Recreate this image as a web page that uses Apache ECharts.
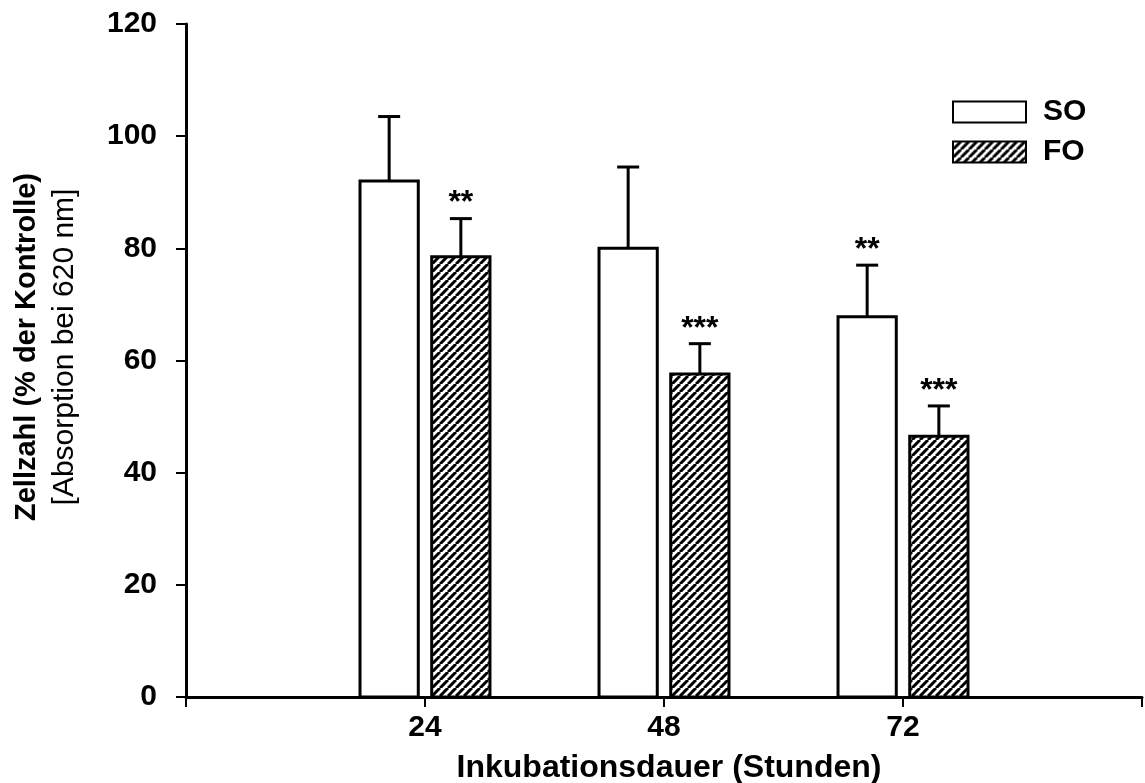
<!DOCTYPE html>
<html>
<head>
<meta charset="utf-8">
<script src="https://cdn.jsdelivr.net/npm/echarts@6/dist/echarts.min.js"></script>
<style>
  html, body { margin: 0; padding: 0; background: #fff; }
  #chart { width: 1145px; height: 783px; }
</style>
</head>
<body>
<div id="chart"></div>
<script>
// Incubation times (hours) and cell counts as % of control
const hours = [24, 48, 72];
const soMean = [92, 80, 67.8];
const soErr = [11.5, 14.5, 9.2];
const foMean = [78.5, 57.6, 46.5];
const foErr = [6.8, 5.4, 5.4];
const soStars = ['', '', '**'];
const foStars = ['**', '***', '***'];
const yTicks = [0, 20, 40, 60, 80, 100, 120];

const FONT = '"Liberation Sans", Arial, sans-serif';

// Diagonal hatch fill for the FO bars
function hatchPattern() {
  const s = 8;
  const c = document.createElement('canvas');
  c.width = s; c.height = s;
  const g = c.getContext('2d');
  g.fillStyle = '#fff';
  g.fillRect(0, 0, s, s);
  g.strokeStyle = '#000';
  g.lineWidth = 3;
  g.beginPath();
  for (let k = -1; k <= 1; k++) {
    g.moveTo(k * s, s);
    g.lineTo(k * s + s, 0);
  }
  g.stroke();
  return c;
}
const hatch = { image: hatchPattern(), repeat: 'repeat' };

const BAR_W = 5.85;   // bar width in hours
const OFFSET = 3.6;   // shift from tick to bar centre, in hours

function makeRender(means, errs, stars, shift, fill) {
  return function (params, api) {
    const i = params.dataIndex;
    const x = api.value(0) + shift;
    const v = api.value(1);
    const e = errs[i];
    const left = api.coord([x - BAR_W / 2, v]);
    const right = api.coord([x + BAR_W / 2, 0]);
    const top = api.coord([x, v + e]);
    const mid = api.coord([x, v]);
    const capHalf = 11;
    const children = [
      {
        type: 'rect',
        shape: { x: left[0], y: left[1], width: right[0] - left[0], height: right[1] - left[1] },
        style: { fill: fill, stroke: '#000', lineWidth: 3 }
      },
      {
        type: 'line',
        shape: { x1: mid[0], y1: mid[1], x2: top[0], y2: top[1] },
        style: { stroke: '#000', lineWidth: 3 }
      },
      {
        type: 'line',
        shape: { x1: top[0] - capHalf, y1: top[1], x2: top[0] + capHalf, y2: top[1] },
        style: { stroke: '#000', lineWidth: 3 }
      }
    ];
    if (stars[i]) {
      children.push({
        type: 'text',
        style: {
          text: stars[i], x: top[0], y: top[1] + 1,
          align: 'center', verticalAlign: 'bottom',
          font: 'bold 32px ' + FONT, fill: '#000'
        }
      });
    }
    return { type: 'group', children: children };
  };
}

const chart = echarts.init(document.getElementById('chart'), null, { renderer: 'canvas' });

chart.setOption({
  backgroundColor: '#fff',
  animation: false,
  grid: { left: 186, right: 2, top: 24, bottom: 86, containLabel: false },
  legend: {
    orient: 'vertical',
    left: 952, top: 97, padding: 0,
    itemWidth: 73, itemHeight: 21, itemGap: 10,
    icon: 'rect',
    textStyle: {
      fontFamily: FONT, fontWeight: 'bold', fontSize: 30, lineHeight: 21,
      color: '#000', padding: [0, 0, 0, 12]
    },
    data: ['SO', 'FO']
  },
  xAxis: {
    type: 'value', min: 0, max: 96, interval: 24,
    axisLine: { lineStyle: { color: '#000', width: 3 } },
    axisTick: { show: true, inside: false, length: 10, lineStyle: { color: '#000', width: 2 } },
    axisLabel: {
      margin: 16, fontFamily: FONT, fontWeight: 'bold', fontSize: 30, color: '#000',
      formatter: v => (hours.indexOf(v) >= 0 ? String(v) : '')
    },
    splitLine: { show: false }
  },
  yAxis: {
    type: 'value', min: yTicks[0], max: yTicks[yTicks.length - 1], interval: 20,
    axisLine: { show: true, lineStyle: { color: '#000', width: 3 } },
    axisTick: { show: true, inside: false, length: 10, lineStyle: { color: '#000', width: 2 } },
    axisLabel: { margin: 29, fontFamily: FONT, fontWeight: 'bold', fontSize: 30, color: '#000' },
    splitLine: { show: false }
  },
  graphic: [
    {
      type: 'text', x: 27, y: 347, rotation: Math.PI / 2,
      style: {
        text: 'Zellzahl (% der Kontrolle)', align: 'center', verticalAlign: 'middle',
        font: 'bold 29px ' + FONT, fill: '#000'
      }
    },
    {
      type: 'text', x: 65, y: 347, rotation: Math.PI / 2,
      style: {
        text: '[Absorption bei 620 nm]', align: 'center', verticalAlign: 'middle',
        font: '30px ' + FONT, fill: '#000'
      }
    },
    {
      type: 'text', x: 669, y: 768,
      style: {
        text: 'Inkubationsdauer (Stunden)', align: 'center', verticalAlign: 'middle',
        font: 'bold 32px ' + FONT, fill: '#000'
      }
    }
  ],
  series: [
    {
      name: 'SO', type: 'custom',
      itemStyle: { color: '#fff', borderColor: '#000', borderWidth: 3 },
      renderItem: makeRender(soMean, soErr, soStars, -OFFSET, '#fff'),
      data: hours.map((h, i) => [h, soMean[i]])
    },
    {
      name: 'FO', type: 'custom',
      itemStyle: { color: hatch, borderColor: '#000', borderWidth: 3 },
      renderItem: makeRender(foMean, foErr, foStars, OFFSET, hatch),
      data: hours.map((h, i) => [h, foMean[i]])
    }
  ]
});
</script>
</body>
</html>
